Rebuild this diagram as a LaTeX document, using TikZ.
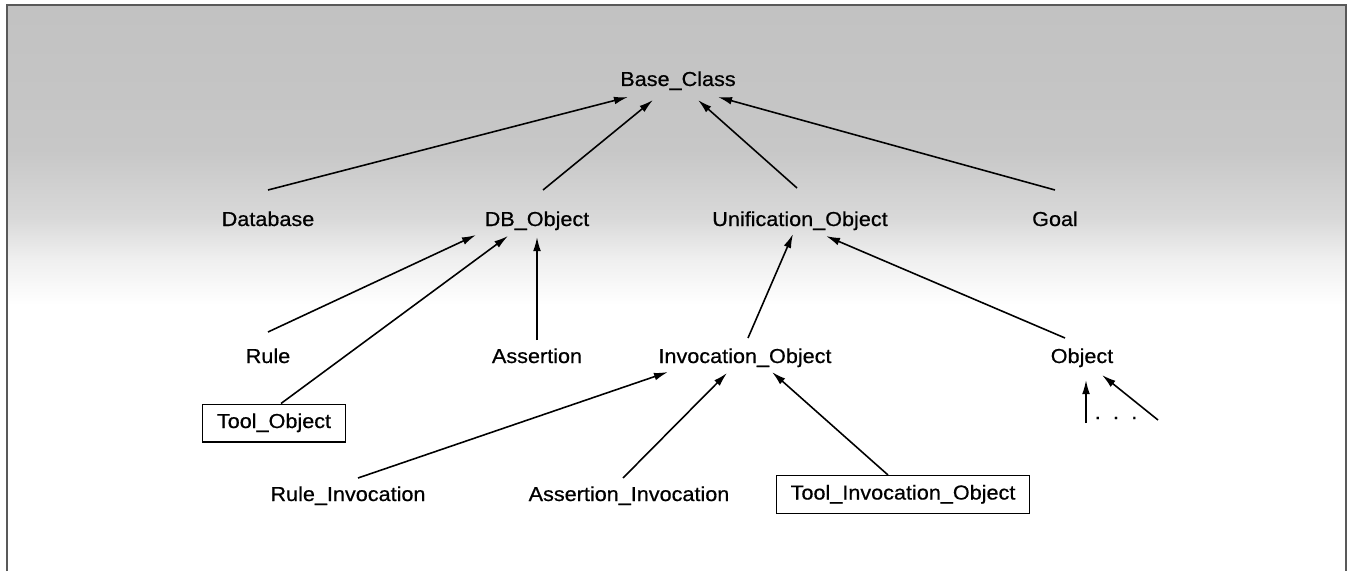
\documentclass[tikz,border=0pt]{standalone}
\usepackage{fontspec}
\setmainfont{Liberation Sans}[FakeStretch=1.07,FakeBold=0.6]
\usetikzlibrary{arrows.meta,calc}
\pgfdeclareverticalshading{bgshade}{100bp}{color(0bp)=(white); color(25bp)=(white); color(32.5bp)=(gray!12); color(39.5bp)=(gray!30); color(51bp)=(gray!44); color(75bp)=(gray!48); color(100bp)=(gray!48)}
\begin{document}
\begin{tikzpicture}[x=0.02cm,y=-0.02cm,
  lbl/.style={anchor=base, inner sep=0pt, font=\fontsize{11.5}{13}\selectfont},
  boxed/.style={draw, line width=0.7pt, font=\fontsize{11.5}{13}\selectfont, text height=8.2pt, text depth=2.5pt, inner xsep=8pt, inner ysep=5.4pt},
  inh/.style={line width=0.9pt, -{Latex[length=8pt,width=4.4pt]}},
  frameline/.style={line width=1.1pt, draw=gray!70!black}]
\useasboundingbox (0,0) rectangle (1348,571);
\shade[shading=bgshade] (7,5) rectangle (1346,305);
\draw[frameline] (7,571) -- (7,5) -- (1346,5) -- (1346,571);

\node[lbl] (base) at (678,86) {Base\_Class};
\node[lbl] (database) at (268,226) {Database};
\node[lbl] (dbobj) at (537,226) {DB\_Object};
\node[lbl] (unif) at (800,226) {Unification\_Object};
\node[lbl] (goal) at (1055,226) {Goal};
\node[lbl] (rule) at (268,363) {Rule};
\node[lbl] (assert) at (537,363) {Assertion};
\node[lbl] (invobj) at (745,363) {Invocation\_Object};
\node[lbl] (object) at (1082,363) {Object};
\node[boxed] (toolobj) at (274,423) {Tool\_Object};
\node[lbl] (ruleinv) at (348,501) {Rule\_Invocation};
\node[lbl] (assertinv) at (629,501) {Assertion\_Invocation};
\node[boxed] (toolinv) at (903,494.5) {Tool\_Invocation\_Object};
\node[lbl] (dots) at (1116,419) {.\hspace{7pt}.\hspace{7pt}.};

\draw[inh] ($(database.base)+(0,-36)$) -- ($(base.base)+(-50,11)$);
\draw[inh] ($(dbobj.base)+(6,-36)$) -- ($(base.base)+(-25,14)$);
\draw[inh] ($(unif.base)+(-3,-38)$) -- ($(base.base)+(20,14)$);
\draw[inh] ($(goal.base)+(0,-36)$) -- ($(base.base)+(40,11)$);

\draw[inh] ($(rule.base)+(0,-31)$) -- ($(dbobj.base)+(-61,9)$);
\draw[inh] ($(toolobj.north)+(7,0)$) -- ($(dbobj.base)+(-29,10)$);
\draw[inh] ($(assert.base)+(0,-23)$) -- ($(dbobj.base)+(0,11)$);

\draw[inh] ($(invobj.base)+(3,-25)$) -- ($(unif.base)+(-7,8)$);
\draw[inh] ($(object.base)+(-17,-25)$) -- ($(unif.base)+(26,10)$);

\draw[inh] ($(ruleinv.base)+(10,-23)$) -- ($(invobj.base)+(-77,9)$);
\draw[inh] ($(assertinv.base)+(-6,-23)$) -- ($(invobj.base)+(-18,10)$);
\draw[inh] ($(toolinv.north)+(-15,0)$) -- ($(invobj.base)+(27,9)$);

\draw[inh] ($(dots.base)+(-30,4)$) -- ($(object.base)+(4,17)$);
\draw[inh] ($(dots.base)+(42,1)$) -- ($(object.base)+(20,12)$);
\end{tikzpicture}
\end{document}
